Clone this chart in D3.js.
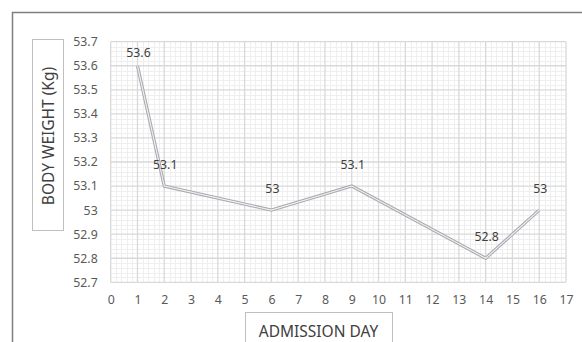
<!DOCTYPE html>
<html><head><meta charset="utf-8">
<script src="https://cdn.jsdelivr.net/npm/d3@7"></script>
<style>body{margin:0;background:#fff}svg{display:block}</style>
</head><body>
<script>
const days = [1, 2, 6, 9, 14, 16];
const weights = [53.6, 53.1, 53.0, 53.1, 52.8, 53.0];
const labels = ["53.6", "53.1", "53", "53.1", "52.8", "53"];
const xTicks = d3.range(0, 18);
const yTicks = [52.7, 52.8, 52.9, 53.0, 53.1, 53.2, 53.3, 53.4, 53.5, 53.6, 53.7];
const xTitle = "ADMISSION DAY";
const yTitle = "BODY WEIGHT (Kg)";

const W = 582, H = 342;
const font = "'Noto Sans', sans-serif";
const svg = d3.select("body").append("svg").attr("width", W).attr("height", H);

const pl = 110.7, pr = 566, pt = 41.7, pb = 282.3;
const x = d3.scaleLinear().domain([0, 17]).range([pl, pr]);
const y = d3.scaleLinear().domain([52.7, 53.7]).range([pb, pt]);

// outer frame (cropped)
svg.append("path").attr("d", `M12.5,${H+2}V12.5H${W+2}`).attr("fill", "none")
  .attr("stroke", "#7f7f7f").attr("stroke-width", 1.5);

// minor grid
const g = svg.append("g");
const xMinor = d3.range(0, 17 * 5 + 1).map(i => i / 5).filter((v, i) => i % 5 !== 0);
const yMinor = d3.range(0, 51).map(i => 52.7 + i * 0.02).filter((v, i) => i % 5 !== 0);
g.selectAll(".xm").data(xMinor).join("line")
  .attr("x1", d => Math.round(x(d)) + 0.5).attr("x2", d => Math.round(x(d)) + 0.5)
  .attr("y1", pt).attr("y2", pb).attr("stroke", "#efefef").attr("stroke-width", 1);
g.selectAll(".ym").data(yMinor).join("line")
  .attr("y1", d => Math.round(y(d)) + 0.5).attr("y2", d => Math.round(y(d)) + 0.5)
  .attr("x1", pl).attr("x2", pr).attr("stroke", "#efefef").attr("stroke-width", 1);
// major grid
g.selectAll(".xM").data(xTicks).join("line")
  .attr("x1", d => x(d)).attr("x2", d => x(d))
  .attr("y1", pt).attr("y2", pb).attr("stroke", "#d9d9d9").attr("stroke-width", 1.3);
g.selectAll(".yM").data(yTicks).join("line")
  .attr("y1", d => y(d)).attr("y2", d => y(d))
  .attr("x1", pl).attr("x2", pr).attr("stroke", "#d9d9d9").attr("stroke-width", 1.3);

// axes tick labels
const yAxis = d3.axisLeft(y).tickValues(yTicks).tickSize(0).tickPadding(13)
  .tickFormat(d => d3.format("")(+d.toFixed(1)));
const ya = svg.append("g").attr("transform", `translate(${pl},0)`).call(yAxis);
ya.select(".domain").remove();
ya.selectAll("text").attr("font-family", font).attr("font-size", 12.3).attr("fill", "#595959");

const xAxis = d3.axisBottom(x).tickValues(xTicks).tickSize(0).tickPadding(13).tickFormat(d3.format("d"));
const xa = svg.append("g").attr("transform", `translate(0,${pb})`).call(xAxis);
xa.select(".domain").remove();
xa.selectAll("text").attr("font-family", font).attr("font-size", 12.3).attr("fill", "#595959");

// line
const pts = days.map((d, i) => [d, weights[i]]);
const line = d3.line().x(d => x(d[0])).y(d => y(d[1]));
svg.append("path").attr("d", line(pts)).attr("fill", "none")
  .attr("stroke", "#a9a9b0").attr("stroke-width", 3.2).attr("stroke-linejoin", "miter");
svg.append("path").attr("d", line(pts)).attr("fill", "none")
  .attr("stroke", "#f2f2f2").attr("stroke-width", 1.1).attr("stroke-linejoin", "miter");

// data labels
svg.selectAll(".lbl").data(pts).join("text")
  .attr("x", d => x(d[0]) + 1)
  .attr("y", d => Math.max(y(d[1]) - 17, pt + 15))
  .attr("text-anchor", "middle").attr("font-family", font).attr("font-size", 12.3)
  .attr("fill", "#404040").text((d, i) => labels[i]);

// y title box
svg.append("rect").attr("x", 32.5).attr("y", 39.5).attr("width", 31).attr("height", 191)
  .attr("fill", "#fff").attr("stroke", "#bfbfbf").attr("stroke-width", 1);
svg.append("text").attr("transform", "translate(54,136) rotate(-90)")
  .attr("text-anchor", "middle").attr("font-family", font).attr("font-size", 15.5)
  .attr("fill", "#404040").text(yTitle);

// x title box
svg.append("rect").attr("x", 245.5).attr("y", 312.5).attr("width", 147).attr("height", 40)
  .attr("fill", "#fff").attr("stroke", "#bfbfbf").attr("stroke-width", 1);
svg.append("text").attr("x", 318.5).attr("y", 337)
  .attr("text-anchor", "middle").attr("font-family", font).attr("font-size", 15.5)
  .attr("fill", "#404040").text(xTitle);
</script>
</body></html>
